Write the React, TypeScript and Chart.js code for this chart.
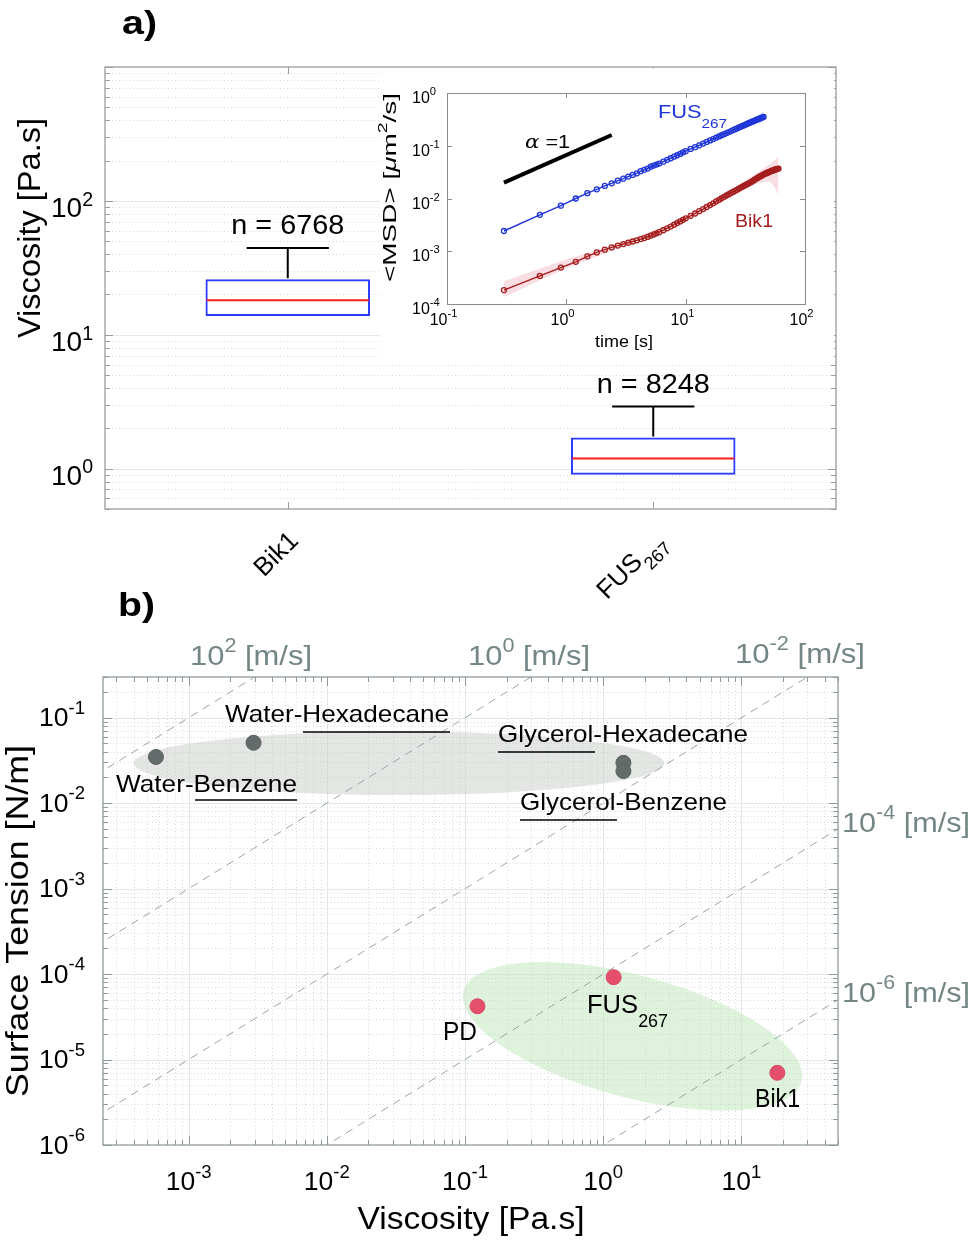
import React, { useEffect, useRef } from 'react';
import { Chart, registerables } from 'chart.js';
Chart.register(...registerables);

const W = 974;
const H = 1241;
const SANS = '"Liberation Sans", Arial, Helvetica, sans-serif';

// ---------------- Panel a : box plot ----------------
const boxCategories = ['Bik1', 'FUS'];
const boxCategorySubs = ['', '267'];
const boxQ1 = [13.8, 0.9];
const boxQ3 = [26.0, 1.71];
const boxMedian = [18.1, 1.19];
const boxWhiskerHigh = [44.5, 2.91];
const boxCounts = [6768, 8248];
const boxYTicks = [1, 10, 100];

// ---------------- Panel a inset : MSD ----------------
const fusTime = [0.3, 0.6, 0.9, 1.2, 1.5, 1.8, 2.1, 2.4, 2.7, 3.0, 3.3, 3.6, 3.9, 4.2, 4.5, 4.8, 5.1, 5.4, 5.7, 6.0, 6.5, 7, 7.5, 8, 8.5, 9, 9.5, 10, 11, 12, 13, 14, 15, 16, 17, 18, 19, 20, 21, 22, 23, 24, 25, 26, 27, 28, 29, 30, 31, 32, 33, 34, 35, 36, 37, 38, 39, 40, 41, 42, 43, 44, 45];
const fusMSD = [0.00242, 0.0049, 0.0073, 0.01, 0.0126, 0.0149, 0.0173, 0.0194, 0.0218, 0.0238, 0.026, 0.028, 0.03, 0.033, 0.035, 0.037, 0.04, 0.042, 0.044, 0.046, 0.05, 0.054, 0.058, 0.062, 0.066, 0.07, 0.075, 0.079, 0.087, 0.094, 0.102, 0.11, 0.118, 0.126, 0.134, 0.142, 0.15, 0.158, 0.166, 0.174, 0.182, 0.19, 0.198, 0.206, 0.214, 0.222, 0.23, 0.238, 0.246, 0.254, 0.262, 0.27, 0.277, 0.285, 0.292, 0.3, 0.308, 0.316, 0.323, 0.331, 0.338, 0.345, 0.352];
const bikTime = [0.3, 0.6, 0.9, 1.2, 1.5, 1.8, 2.1, 2.4, 2.7, 3.0, 3.3, 3.6, 3.9, 4.2, 4.5, 4.8, 5.1, 5.4, 5.7, 6.0, 6.5, 7, 7.5, 8, 8.5, 9, 9.5, 10, 11, 12, 13, 14, 15, 16, 17, 18, 19, 20, 21, 22, 23, 24, 25, 26, 27, 28, 29, 30, 31, 32, 33, 34, 35, 36, 37, 38, 39, 40, 41, 42, 43, 44, 45, 46, 47, 48, 49, 50, 51, 52, 53, 54, 55, 56, 57, 58, 59, 60];
const bikMSD = [0.000184, 0.00034, 0.00049, 0.00063, 0.0008, 0.00095, 0.00107, 0.00118, 0.00128, 0.00137, 0.00145, 0.00153, 0.00161, 0.0017, 0.00178, 0.00187, 0.00197, 0.00208, 0.00219, 0.0023, 0.0025, 0.00272, 0.00294, 0.00318, 0.00343, 0.00368, 0.00394, 0.0042, 0.0047, 0.0052, 0.00575, 0.0063, 0.0069, 0.0075, 0.0081, 0.0088, 0.0094, 0.0101, 0.01075, 0.0114, 0.01205, 0.0127, 0.01335, 0.014, 0.0147, 0.0154, 0.0161, 0.0168, 0.0175, 0.0182, 0.0189, 0.0196, 0.0203, 0.0211, 0.0219, 0.0228, 0.0236, 0.0245, 0.0253, 0.0261, 0.0269, 0.0277, 0.0285, 0.0292, 0.0299, 0.0306, 0.0312, 0.0318, 0.0324, 0.033, 0.0336, 0.0341, 0.0347, 0.0352, 0.0357, 0.0361, 0.0366, 0.037];
const fusBandTime = [3, 10, 20, 30, 40, 45];
const fusBandLow = [0.0228, 0.075, 0.148, 0.215, 0.27, 0.28];
const fusBandHigh = [0.0248, 0.083, 0.168, 0.262, 0.37, 0.45];
const bikBandTime = [0.3, 1, 3, 10, 20, 30, 40, 50, 55, 60];
const bikBandLow = [0.000135, 0.00047, 0.00125, 0.0039, 0.0088, 0.014, 0.019, 0.021, 0.017, 0.0117];
const bikBandHigh = [0.00027, 0.0007, 0.0015, 0.0045, 0.0115, 0.02, 0.031, 0.044, 0.052, 0.061];
const alphaTime = [0.3, 2.4];
const alphaMSD = [0.02, 0.16];
const insetXTicks = [0.1, 1, 10, 100];
const insetYTicks = [1e-4, 1e-3, 1e-2, 1e-1, 1];

// ---------------- Panel b : surface tension vs viscosity ----------------
const fluidNames = ['Water-Benzene', 'Water-Hexadecane', 'Glycerol-Hexadecane', 'Glycerol-Benzene'];
const fluidViscosity = [5.8e-4, 2.95e-3, 1.4, 1.4];
const fluidTension = [0.0348, 0.051, 0.0297, 0.0238];
const condensateNames = ['PD', 'FUS', 'Bik1'];
const condensateSubs = ['', '267', ''];
const condensateViscosity = [0.123, 1.19, 18.2];
const condensateTension = [4.2e-5, 9.2e-5, 7.0e-6];
const speedValues = [1e2, 1e0, 1e-2, 1e-4, 1e-6];
const clusterCenterViscosity = [0.0333, 1.63];
const clusterCenterTension = [0.0294, 1.87e-5];
const tensionXTicks = [1e-3, 1e-2, 1e-1, 1, 10];
const tensionYTicks = [1e-6, 1e-5, 1e-4, 1e-3, 1e-2, 1e-1];

// ---------------- helpers ----------------
type Part = { t: string; k?: 'sup' | 'sub'; st?: string; fam?: string };
type TextOpt = {
  size: number; color?: string; align?: 'left' | 'center' | 'right'; rot?: number;
  width?: number; sx?: number; weight?: string; supScale?: number; supDy?: number; subDy?: number;
};

function drawRich(ctx: CanvasRenderingContext2D, parts: Part[], x: number, y: number, o: TextOpt) {
  const ss = o.supScale ?? 0.7;
  const font = (p: Part) =>
    `${p.st ? p.st + ' ' : ''}${o.weight || 'normal'} ${p.k ? o.size * ss : o.size}px ${p.fam || SANS}`;
  ctx.save();
  const ws = parts.map((p) => {
    ctx.font = font(p);
    return ctx.measureText(p.t).width;
  });
  const total = ws.reduce((a, b) => a + b, 0);
  const sx = o.width ? o.width / total : o.sx ?? 1;
  ctx.translate(x, y);
  if (o.rot) ctx.rotate(o.rot);
  ctx.scale(sx, 1);
  let cx = o.align === 'center' ? -total / 2 : o.align === 'right' ? -total : 0;
  ctx.fillStyle = o.color || '#000';
  ctx.textAlign = 'left';
  ctx.textBaseline = 'alphabetic';
  parts.forEach((p, i) => {
    ctx.font = font(p);
    const dy = p.k === 'sup' ? -o.size * (o.supDy ?? 0.45) : p.k === 'sub' ? o.size * (o.subDy ?? 0.5) : 0;
    ctx.fillText(p.t, cx, dy);
    cx += ws[i];
  });
  ctx.restore();
}

const expParts = (v: number, extra = ''): Part[] => {
  const parts: Part[] = [{ t: '10' }, { t: String(Math.round(Math.log10(v))), k: 'sup' }];
  if (extra) parts.push({ t: extra });
  return parts;
};

function logSteps(min: number, max: number) {
  const out: { v: number; major: boolean }[] = [];
  const e0 = Math.floor(Math.log10(min));
  const e1 = Math.ceil(Math.log10(max));
  for (let e = e0; e <= e1; e++) {
    for (let m = 1; m <= 9; m++) {
      const v = m * Math.pow(10, e);
      if (v >= min * 0.999 && v <= max * 1.001) out.push({ v, major: m === 1 });
    }
  }
  return out;
}

const hline = (ctx: CanvasRenderingContext2D, x1: number, x2: number, y: number) => {
  ctx.beginPath();
  ctx.moveTo(x1, y);
  ctx.lineTo(x2, y);
  ctx.stroke();
};
const vline = (ctx: CanvasRenderingContext2D, x: number, y1: number, y2: number) => {
  ctx.beginPath();
  ctx.moveTo(x, y1);
  ctx.lineTo(x, y2);
  ctx.stroke();
};

const GRID_MAJOR = '#e5e8e8';
const GRID_MINOR = '#d6dada';
const FRAME_A = '#9c9c9c';
const FRAME_B = '#8f9a99';
const BOX_BLUE = '#2b3bff';
const MEDIAN_RED = '#ff1f1f';
const FUS_BLUE = '#1f35d8';
const BIK_RED = '#a51d1d';
const SPEED_GRAY = '#738685';

// ---------------- Panel a plugin ----------------
const panelAPlugin = {
  id: 'panelA',
  beforeDatasetsDraw(chart: any) {
    const { ctx, chartArea: ca, scales } = chart;
    const y = scales.y;
    ctx.save();
    for (const s of logSteps(0.5, 1000)) {
      const py = Math.round(y.getPixelForValue(s.v)) + 0.5;
      if (py <= ca.top + 1 || py >= ca.bottom - 1) continue;
      ctx.strokeStyle = s.major ? GRID_MAJOR : GRID_MINOR;
      ctx.lineWidth = 1;
      ctx.setLineDash(s.major ? [] : [1, 2.5]);
      hline(ctx, ca.left, ca.right, py);
    }
    ctx.restore();
  },
  afterDatasetsDraw(chart: any) {
    const { ctx, chartArea: ca, scales } = chart;
    const x = scales.x;
    const y = scales.y;
    const meta = chart.getDatasetMeta(0);
    ctx.save();
    boxCategories.forEach((_, i) => {
      const bar = meta.data[i];
      const cx = bar.x;
      const bw = bar.width;
      ctx.strokeStyle = MEDIAN_RED;
      ctx.lineWidth = 2;
      hline(ctx, cx - bw / 2 + 1, cx + bw / 2 - 1, y.getPixelForValue(boxMedian[i]));
      ctx.strokeStyle = '#000';
      ctx.lineWidth = 2;
      const wy = y.getPixelForValue(boxWhiskerHigh[i]);
      vline(ctx, cx, y.getPixelForValue(boxQ3[i]) - 1, wy);
      hline(ctx, cx - bw / 4, cx + bw / 4, wy);
      drawRich(ctx, [{ t: `n = ${boxCounts[i]}` }], cx, wy - 14, { size: 28, align: 'center', width: 113 });
      const parts: Part[] = [{ t: boxCategories[i] }];
      if (boxCategorySubs[i]) parts.push({ t: boxCategorySubs[i], k: 'sub' });
      drawRich(ctx, parts, cx + 12, ca.bottom + 33, { size: 26, align: 'right', rot: -Math.PI / 4, subDy: 0.4 });
    });
    ctx.strokeStyle = FRAME_A;
    ctx.lineWidth = 1.3;
    ctx.strokeRect(ca.left, ca.top, ca.right - ca.left, ca.bottom - ca.top);
    ctx.lineWidth = 1;
    for (const s of logSteps(0.5, 1000)) {
      const py = Math.round(y.getPixelForValue(s.v)) + 0.5;
      const len = s.major ? 8 : 5;
      hline(ctx, ca.left, ca.left + len, py);
      hline(ctx, ca.right - len, ca.right, py);
    }
    boxCategories.forEach((_, i) => {
      const px = Math.round(x.getPixelForValue(i)) + 0.5;
      vline(ctx, px, ca.top, ca.top + 7);
      vline(ctx, px, ca.bottom, ca.bottom - 7);
    });
    boxYTicks.forEach((v) => {
      drawRich(ctx, expParts(v), 51, y.getPixelForValue(v) + 16, { size: 28, supDy: 0.4 });
    });
    drawRich(ctx, [{ t: 'Viscosity [Pa.s]' }], 40, 228, { size: 31, align: 'center', rot: -Math.PI / 2, width: 220 });
    drawRich(ctx, [{ t: 'a)' }], 122, 34, { size: 34, weight: 'bold', width: 35 });
    ctx.restore();
  },
};

// ---------------- Inset plugin ----------------
const insetPlugin = {
  id: 'inset',
  beforeDraw(chart: any) {
    const { ctx } = chart;
    ctx.save();
    ctx.fillStyle = '#fff';
    ctx.fillRect(380, 68.5, 834 - 380, 360 - 68.5);
    ctx.restore();
  },
  afterDatasetsDraw(chart: any) {
    const { ctx, chartArea: ca, scales } = chart;
    const x = scales.x;
    const y = scales.y;
    ctx.save();
    ctx.strokeStyle = '#8a8a8a';
    ctx.lineWidth = 1;
    ctx.strokeRect(ca.left + 0.5, ca.top + 0.5, ca.right - ca.left, ca.bottom - ca.top);
    insetXTicks.forEach((v) => {
      const px = Math.round(x.getPixelForValue(v)) + 0.5;
      vline(ctx, px, ca.bottom, ca.bottom - 5);
      vline(ctx, px, ca.top, ca.top + 5);
      drawRich(ctx, expParts(v), px - 4, 325, { size: 16, align: 'center', supDy: 0.5 });
    });
    insetYTicks.forEach((v) => {
      const py = Math.round(y.getPixelForValue(v)) + 0.5;
      hline(ctx, ca.left, ca.left + 5, py);
      hline(ctx, ca.right, ca.right - 5, py);
      drawRich(ctx, expParts(v), 412, py + 9, { size: 16, supDy: 0.5 });
    });
    drawRich(ctx, [{ t: 'time [s]' }], 624, 347, { size: 17, align: 'center', width: 58 });
    drawRich(
      ctx,
      [{ t: '<MSD> [' }, { t: 'μ', st: 'italic' }, { t: 'm' }, { t: '2', k: 'sup' }, { t: '/s]' }],
      396,
      187.5,
      { size: 19, align: 'center', rot: -Math.PI / 2, width: 189, supDy: 0.45 }
    );
    drawRich(ctx, [{ t: 'α', st: 'italic', fam: '"DejaVu Serif", serif' }, { t: ' =1' }], 525, 148, { size: 19, width: 45 });
    drawRich(ctx, [{ t: 'FUS' }, { t: '267', k: 'sub' }], 658, 118, { size: 18, color: FUS_BLUE, width: 69, subDy: 0.55 });
    drawRich(ctx, [{ t: 'Bik1' }], 735, 227, { size: 19, color: BIK_RED, width: 38 });
    ctx.restore();
  },
};

// ---------------- Panel b plugin ----------------
const X_MIN = 2.4e-4;
const X_MAX = 50;
const Y_MIN = 1e-6;
const Y_MAX = 0.3;

const panelBPlugin = {
  id: 'panelB',
  beforeDatasetsDraw(chart: any) {
    const { ctx, chartArea: ca, scales } = chart;
    const x = scales.x;
    const y = scales.y;
    ctx.save();
    ctx.lineWidth = 1;
    for (const s of logSteps(X_MIN, X_MAX)) {
      const px = Math.round(x.getPixelForValue(s.v)) + 0.5;
      if (px <= ca.left + 1 || px >= ca.right - 1) continue;
      ctx.strokeStyle = s.major ? GRID_MAJOR : GRID_MINOR;
      ctx.setLineDash(s.major ? [] : [1, 2.5]);
      vline(ctx, px, ca.top, ca.bottom);
    }
    for (const s of logSteps(Y_MIN, Y_MAX)) {
      const py = Math.round(y.getPixelForValue(s.v)) + 0.5;
      if (py <= ca.top + 1 || py >= ca.bottom - 1) continue;
      ctx.strokeStyle = s.major ? GRID_MAJOR : GRID_MINOR;
      ctx.setLineDash(s.major ? [] : [1, 2.5]);
      hline(ctx, ca.left, ca.right, py);
    }
    ctx.setLineDash([]);
    {
      const cx = x.getPixelForValue(clusterCenterViscosity[0]);
      const cy = y.getPixelForValue(clusterCenterTension[0]);
      const rx = x.getPixelForValue(clusterCenterViscosity[0] * Math.pow(10, 1.92)) - cx;
      const ry = cy - y.getPixelForValue(clusterCenterTension[0] * Math.pow(10, 0.373));
      ctx.fillStyle = 'rgba(200,206,200,0.5)';
      ctx.beginPath();
      ctx.ellipse(cx, cy, rx, ry, 0, 0, Math.PI * 2);
      ctx.fill();
    }
    {
      const cx = x.getPixelForValue(clusterCenterViscosity[1]);
      const cy = y.getPixelForValue(clusterCenterTension[1]);
      ctx.fillStyle = 'rgba(190,230,185,0.5)';
      ctx.beginPath();
      ctx.ellipse(cx, cy, 175, 61, (15 * Math.PI) / 180, 0, Math.PI * 2);
      ctx.fill();
    }
    ctx.restore();
  },
  afterDatasetsDraw(chart: any) {
    const { ctx, chartArea: ca, scales } = chart;
    const x = scales.x;
    const y = scales.y;
    ctx.save();
    ctx.strokeStyle = FRAME_B;
    ctx.lineWidth = 1.3;
    ctx.strokeRect(ca.left, ca.top, ca.right - ca.left, ca.bottom - ca.top);
    ctx.lineWidth = 1;
    for (const s of logSteps(X_MIN, X_MAX)) {
      const px = Math.round(x.getPixelForValue(s.v)) + 0.5;
      const len = s.major ? 9 : 5;
      vline(ctx, px, ca.bottom, ca.bottom - len);
      vline(ctx, px, ca.top, ca.top + len);
    }
    for (const s of logSteps(Y_MIN, Y_MAX)) {
      const py = Math.round(y.getPixelForValue(s.v)) + 0.5;
      const len = s.major ? 9 : 5;
      hline(ctx, ca.left, ca.left + len, py);
      hline(ctx, ca.right, ca.right - len, py);
    }
    tensionXTicks.forEach((v) => {
      drawRich(ctx, expParts(v), x.getPixelForValue(v), 1190, { size: 25, align: 'center', sx: 1.06, supDy: 0.5 });
    });
    tensionYTicks.forEach((v) => {
      drawRich(ctx, expParts(v), 39, y.getPixelForValue(v) + 8.5, { size: 25, sx: 1.06, supDy: 0.5 });
    });
    drawRich(ctx, [{ t: 'Viscosity [Pa.s]' }], 471, 1229, { size: 31, align: 'center', width: 227 });
    drawRich(ctx, [{ t: 'Surface Tension [N/m]' }], 28, 921, { size: 31, align: 'center', rot: -Math.PI / 2, width: 352 });
    drawRich(ctx, [{ t: 'b)' }], 118, 616, { size: 34, weight: 'bold', width: 37 });

    const speedPos = [
      [190, 665, 122],
      [468, 665, 122],
      [735, 663, 130],
      [842, 832, 128],
      [842, 1002, 128],
    ];
    speedValues.forEach((v, i) => {
      const [px, py, w] = speedPos[i];
      drawRich(ctx, expParts(v, ' [m/s]'), px, py, { size: 28, color: SPEED_GRAY, width: w, supDy: 0.48 });
    });

    const fluidPos = [
      [116, 792, 181, 195, 297, 800],
      [225, 722, 224, 303, 450, 732],
      [498, 742, 250, 498, 595, 752],
      [520, 810, 207, 520, 617, 820],
    ];
    ctx.strokeStyle = '#000';
    ctx.lineWidth = 1.6;
    fluidNames.forEach((name, i) => {
      const [px, py, w, u1, u2, uy] = fluidPos[i];
      drawRich(ctx, [{ t: name }], px, py, { size: 24, width: w });
      hline(ctx, u1, u2, uy);
    });

    const condPos = [
      [443, 1040, 34],
      [587, 1013, 81],
      [755, 1107, 45],
    ];
    condensateNames.forEach((name, i) => {
      const [px, py, w] = condPos[i];
      const parts: Part[] = [{ t: name }];
      if (condensateSubs[i]) parts.push({ t: condensateSubs[i], k: 'sub' });
      drawRich(ctx, parts, px, py, { size: 25, width: w, subDy: 0.56 });
    });
    ctx.restore();
  },
};

const baseOptions = (pad: { left: number; top: number; right: number; bottom: number }) => ({
  animation: false as const,
  responsive: false,
  events: [] as any[],
  layout: { padding: pad },
  plugins: { legend: { display: false }, tooltip: { enabled: false } },
});

function configA(): any {
  return {
    type: 'bar',
    data: {
      labels: boxCategories,
      datasets: [
        {
          data: boxQ1.map((q, i) => [q, boxQ3[i]]),
          backgroundColor: 'rgba(0,0,0,0)',
          borderColor: BOX_BLUE,
          borderWidth: 2,
          borderSkipped: false,
          barPercentage: 0.45,
          categoryPercentage: 1,
        },
      ],
    },
    options: {
      ...baseOptions({ left: 105, top: 67, right: W - 836, bottom: H - 509 }),
      scales: {
        x: { type: 'category', display: false, offset: true },
        y: { type: 'logarithmic', display: false, min: 0.5, max: 1000 },
      },
    },
    plugins: [panelAPlugin],
  };
}

const pts = (xs: number[], ys: number[]) => xs.map((v, i) => ({ x: v, y: ys[i] }));

function configInset(): any {
  const lineDs = (xs: number[], ys: number[], color: string) => ({
    data: pts(xs, ys),
    borderColor: color,
    borderWidth: 1.4,
    pointRadius: 2.5,
    pointBorderWidth: 1.3,
    pointBorderColor: color,
    pointBackgroundColor: 'rgba(255,255,255,0)',
    fill: false,
  });
  const bandDs = (xs: number[], ys: number[], fill: any, color: string) => ({
    data: pts(xs, ys),
    borderWidth: 0,
    borderColor: 'rgba(0,0,0,0)',
    pointRadius: 0,
    backgroundColor: color,
    fill,
    tension: 0.3,
  });
  return {
    type: 'line',
    data: {
      datasets: [
        lineDs(fusTime, fusMSD, FUS_BLUE),
        lineDs(bikTime, bikMSD, BIK_RED),
        { data: pts(alphaTime, alphaMSD), borderColor: '#000', borderWidth: 4, pointRadius: 0, fill: false },
        bandDs(fusBandTime, fusBandHigh, '+1', 'rgba(150,175,235,0.4)'),
        bandDs(fusBandTime, fusBandLow, false, 'rgba(0,0,0,0)'),
        bandDs(bikBandTime, bikBandHigh, '+1', 'rgba(235,160,175,0.35)'),
        bandDs(bikBandTime, bikBandLow, false, 'rgba(0,0,0,0)'),
      ],
    },
    options: {
      ...baseOptions({ left: 447, top: 93, right: W - 805, bottom: H - 304 }),
      scales: {
        x: { type: 'logarithmic', display: false, min: 0.1, max: 100 },
        y: { type: 'logarithmic', display: false, min: 1e-4, max: 1 },
      },
    },
    plugins: [insetPlugin],
  };
}

function configB(): any {
  const speedDatasets = speedValues.map((v) => ({
    data: [
      { x: 1e-6, y: v * 1e-6 },
      { x: 1e3, y: v * 1e3 },
    ],
    showLine: true,
    borderColor: '#9aa6a4',
    borderWidth: 1,
    borderDash: [8, 6],
    pointRadius: 0,
  }));
  return {
    type: 'scatter',
    data: {
      datasets: [
        {
          data: pts(fluidViscosity, fluidTension),
          pointRadius: 7.5,
          pointBackgroundColor: '#636c6a',
          pointBorderColor: '#5a6260',
          pointBorderWidth: 1,
        },
        {
          data: pts(condensateViscosity, condensateTension),
          pointRadius: 7.5,
          pointBackgroundColor: '#e4506b',
          pointBorderColor: '#d94764',
          pointBorderWidth: 1,
        },
        ...speedDatasets,
      ],
    },
    options: {
      ...baseOptions({ left: 103, top: 677, right: W - 838, bottom: H - 1145 }),
      scales: {
        x: { type: 'logarithmic', display: false, min: X_MIN, max: X_MAX },
        y: { type: 'logarithmic', display: false, min: Y_MIN, max: Y_MAX },
      },
    },
    plugins: [panelBPlugin],
  };
}

export default function App() {
  const refA = useRef<HTMLCanvasElement>(null);
  const refInset = useRef<HTMLCanvasElement>(null);
  const refB = useRef<HTMLCanvasElement>(null);
  useEffect(() => {
    const charts = [
      new Chart(refA.current as HTMLCanvasElement, configA()),
      new Chart(refInset.current as HTMLCanvasElement, configInset()),
      new Chart(refB.current as HTMLCanvasElement, configB()),
    ];
    return () => charts.forEach((c) => c.destroy());
  }, []);
  const cs: React.CSSProperties = { position: 'absolute', left: 0, top: 0, width: W, height: H };
  return (
    <div style={{ position: 'absolute', left: 0, top: 0, width: W, height: H, background: '#fff', overflow: 'hidden' }}>
      <canvas ref={refA} width={W} height={H} style={cs} />
      <canvas ref={refInset} width={W} height={H} style={cs} />
      <canvas ref={refB} width={W} height={H} style={cs} />
    </div>
  );
}
